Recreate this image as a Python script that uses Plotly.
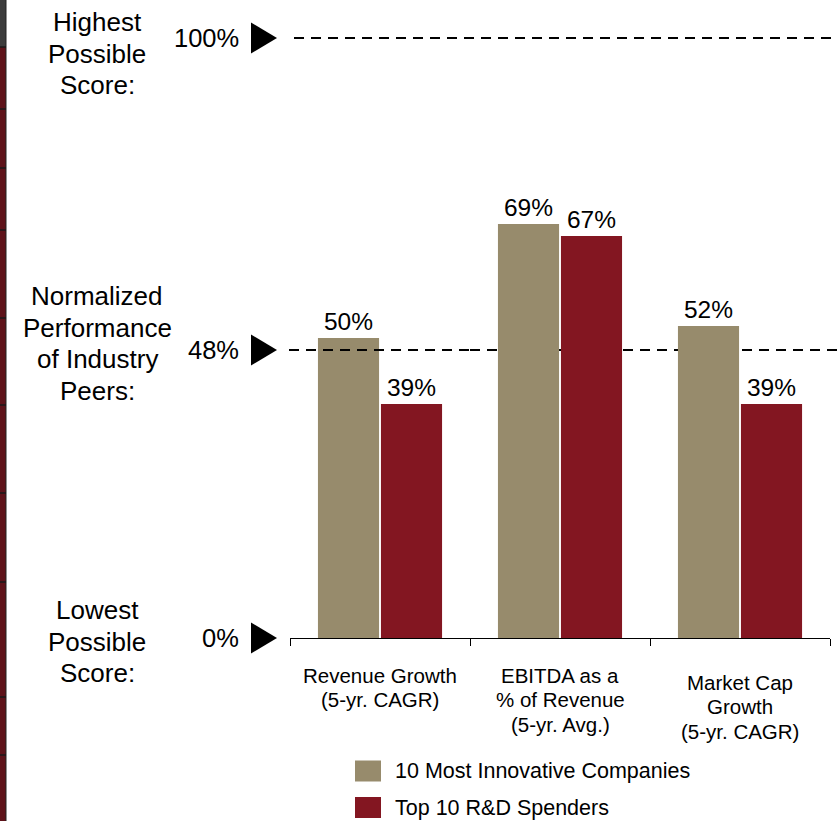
import plotly.graph_objects as go

# ---- data -------------------------------------------------------------
categories = ["Revenue Growth", "EBITDA as a % of Revenue", "Market Cap Growth"]
category_lines = [
    ["Revenue Growth", "(5-yr. CAGR)"],
    ["EBITDA as a", "% of Revenue", "(5-yr. Avg.)"],
    ["Market Cap", "Growth", "(5-yr. CAGR)"],
]
series_names = ["10 Most Innovative Companies", "Top 10 R&D Spenders"]
innovative = [50, 69, 52]
rd_spenders = [39, 67, 39]
series_colors = ["#978B6C", "#831621"]

reference_levels = [100, 48, 0]
reference_labels = ["100%", "48%", "0%"]
side_captions = [
    ["Highest", "Possible", "Score:"],
    ["Normalized", "Performance", "of Industry", "Peers:"],
    ["Lowest", "Possible", "Score:"],
]

# ---- geometry (pixels) ------------------------------------------------
W, H = 838, 821
L, R, T, B = 290, 830, 14, 638
YMAX = 104
FONT = "Liberation Sans, Arial, Helvetica, sans-serif"


def px(x):
    return (x - L) / (R - L)


def py(y):
    return (B - y) / (B - T)


fig = go.Figure()
for name, vals, col in zip(series_names, [innovative, rd_spenders], series_colors):
    fig.add_trace(go.Bar(
        x=categories, y=vals, name=name,
        marker=dict(color=col, line=dict(width=0)),
        text=[f"{v}%" for v in vals], textposition="outside",
        textfont=dict(size=24.5, color="black", family=FONT),
        constraintext="none", cliponaxis=False, showlegend=False,
        hoverinfo="skip",
    ))

shapes = []
annotations = []
DASH = dict(color="black", width=2, dash="10px,7px")

# reference levels: arrow, value label and dashed guide line
for lvl, lab in zip(reference_levels, reference_labels):
    yc = lvl / YMAX
    hh = 15.5 / (B - T)
    shapes.append(dict(
        type="path", xref="paper", yref="paper",
        path=f"M {px(251)},{yc + hh} L {px(277)},{yc} L {px(251)},{yc - hh} Z",
        fillcolor="black", line=dict(width=0),
    ))
    annotations.append(dict(
        xref="paper", yref="paper", x=px(241), y=yc, xanchor="right", yanchor="middle",
        text=lab, showarrow=False, font=dict(size=25.5, color="black", family=FONT),
    ))
    if lvl == 100:
        shapes.append(dict(type="line", xref="paper", yref="paper",
                           x0=px(294), x1=px(838), y0=yc, y1=yc, layer="above", line=DASH))
    elif lvl > 0:
        shapes.append(dict(type="line", xref="paper", yref="paper",
                           x0=px(289), x1=px(470), y0=yc, y1=yc, layer="above", line=DASH))
        shapes.append(dict(type="line", xref="paper", yref="paper",
                           x0=px(470), x1=px(838), y0=yc, y1=yc, layer="below", line=DASH))

# captions on the left
caption_tops = [22, 296, 610]
for lines, top in zip(side_captions, caption_tops):
    for i, s in enumerate(lines):
        annotations.append(dict(
            xref="paper", yref="paper", x=px(97), y=py(top + i * 31.5),
            xanchor="center", yanchor="middle", text=s, showarrow=False,
            font=dict(size=26, color="black", family=FONT),
        ))

# category labels under the axis
cat_tops = [675, 675, 682]
for ci, (lines, top) in enumerate(zip(category_lines, cat_tops)):
    for i, s in enumerate(lines):
        annotations.append(dict(
            xref="x", yref="paper", x=categories[ci], y=py(top + i * 24.5),
            xanchor="center", yanchor="middle", text=s, showarrow=False,
            font=dict(size=20.5, color="black", family=FONT),
        ))

# legend
for i, (name, col) in enumerate(zip(series_names, series_colors)):
    yc = 771 + i * 36.5
    shapes.append(dict(type="rect", xref="paper", yref="paper",
                       x0=px(355), x1=px(381), y0=py(yc - 10.5), y1=py(yc + 10.5),
                       fillcolor=col, line=dict(width=0)))
    annotations.append(dict(
        xref="paper", yref="paper", x=px(393), y=py(yc), xanchor="left", yanchor="middle",
        text=name, showarrow=False, font=dict(size=21.5, color="black", family=FONT),
    ))

# slide border strip on the left edge
shapes.append(dict(type="rect", xref="paper", yref="paper", x0=px(0), x1=px(6),
                   y0=py(0), y1=py(47), fillcolor="#3c3c3c", line=dict(width=0)))
shapes.append(dict(type="rect", xref="paper", yref="paper", x0=px(0), x1=px(6),
                   y0=py(47), y1=py(H), fillcolor="#5e1219", line=dict(width=0)))
shapes.append(dict(type="line", xref="paper", yref="paper", x0=px(6), x1=px(6),
                   y0=py(0), y1=py(H), line=dict(color="#222222", width=1)))
for yy in [47, 109, 168, 230, 318, 405, 493, 582, 697, 755]:
    shapes.append(dict(type="line", xref="paper", yref="paper", x0=px(0), x1=px(6),
                       y0=py(yy), y1=py(yy), line=dict(color="#1a1a1a", width=1.5)))

fig.update_layout(
    width=W, height=H, autosize=False,
    margin=dict(l=L, r=W - R, t=T, b=H - B, pad=0),
    paper_bgcolor="white", plot_bgcolor="white",
    barmode="group", bargap=0.3, bargroupgap=0.03,
    font=dict(family=FONT, color="black"),
    shapes=shapes, annotations=annotations,
    xaxis=dict(
        type="category", range=[-0.5, 2.5], showline=True, linecolor="black", linewidth=1,
        ticks="outside", ticklen=7, tickcolor="black", tickwidth=1, tickson="boundaries",
        showticklabels=False, showgrid=False, zeroline=False, fixedrange=True,
    ),
    yaxis=dict(range=[0, YMAX], visible=False, fixedrange=True),
)

fig.write_html("out.html")
